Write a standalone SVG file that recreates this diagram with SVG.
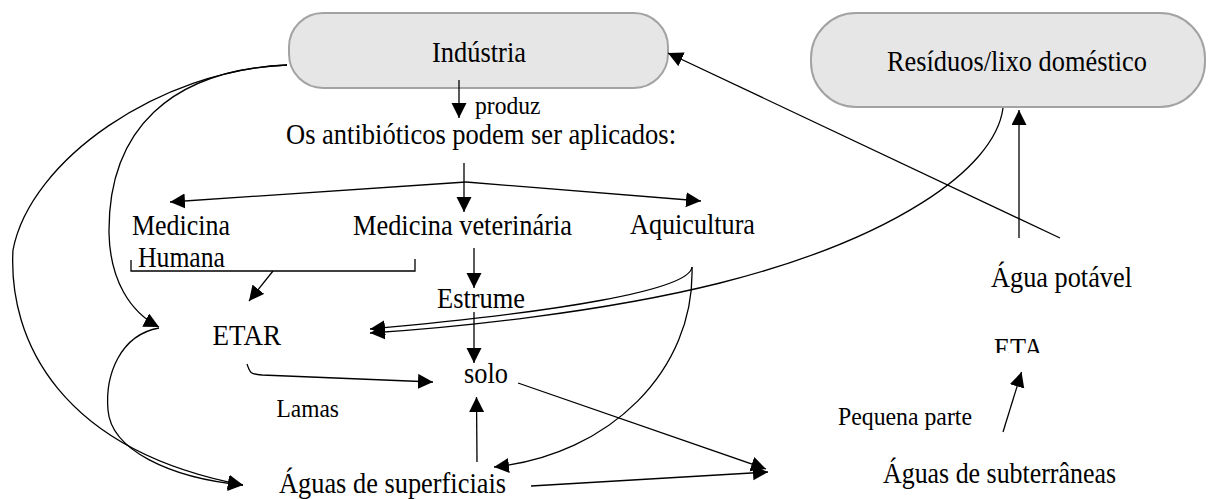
<svg xmlns="http://www.w3.org/2000/svg" width="1214" height="499" viewBox="0 0 1214 499">
<style>
.t{font-family:"Liberation Serif","Times New Roman",serif;font-size:28.5px;fill:#000}
.s{font-family:"Liberation Serif","Times New Roman",serif;font-size:25px;fill:#000}
.box{fill:#e6e6e6;stroke:#a3a3a3;stroke-width:2}
.c{fill:none;stroke:#000;stroke-width:1.3}
</style>
<defs>
<marker id="ah" markerUnits="userSpaceOnUse" markerWidth="16" markerHeight="16" refX="15" refY="7.5" orient="auto">
<path d="M0,0 L15,7.5 L0,15 z" fill="#000"/>
</marker>
<clipPath id="etaclip"><rect x="980" y="320" width="80" height="33"/></clipPath>
</defs>
<g id="industria">
<rect class="box" x="289" y="13" width="379" height="75" rx="34" ry="34"/>
<text class="t" x="432" y="62" textLength="94" lengthAdjust="spacingAndGlyphs">Indústria</text>
</g>
<g id="residuos">
<rect class="box" x="811" y="13" width="394" height="94" rx="45" ry="45"/>
<text class="t" x="887" y="71" textLength="260" lengthAdjust="spacingAndGlyphs">Resíduos/lixo doméstico</text>
</g>
<g id="antibioticos">
<text class="t" x="286" y="144" textLength="390" lengthAdjust="spacingAndGlyphs">Os antibióticos podem ser aplicados:</text>
</g>
<g id="medicina-humana">
<text class="t" x="132" y="235" textLength="98" lengthAdjust="spacingAndGlyphs">Medicina</text>
<text class="t" x="138" y="267" textLength="87" lengthAdjust="spacingAndGlyphs">Humana</text>
</g>
<g id="medicina-veterinaria">
<text class="t" x="353" y="235" textLength="219" lengthAdjust="spacingAndGlyphs">Medicina veterinária</text>
</g>
<g id="aquicultura">
<text class="t" x="630" y="234" textLength="125" lengthAdjust="spacingAndGlyphs">Aquicultura</text>
</g>
<g id="estrume">
<text class="t" x="437" y="308" textLength="88" lengthAdjust="spacingAndGlyphs">Estrume</text>
</g>
<g id="etar">
<text class="t" x="212.5" y="345" textLength="68.5" lengthAdjust="spacingAndGlyphs">ETAR</text>
</g>
<g id="solo">
<text class="t" x="464" y="383" textLength="44" lengthAdjust="spacingAndGlyphs">solo</text>
</g>
<g id="aguas-superficiais">
<text class="t" x="279" y="493" textLength="227" lengthAdjust="spacingAndGlyphs">Águas de superficiais</text>
</g>
<g id="agua-potavel">
<text class="t" x="991" y="287" textLength="141" lengthAdjust="spacingAndGlyphs">Água potável</text>
</g>
<g id="eta">
<text class="t" x="994" y="358" textLength="49" lengthAdjust="spacingAndGlyphs" clip-path="url(#etaclip)">ETA</text>
</g>
<g id="aguas-subterraneas">
<text class="t" x="883" y="483" textLength="233" lengthAdjust="spacingAndGlyphs">Águas de subterrâneas</text>
</g>
<g id="labels">
<text class="s" x="475" y="114" textLength="65.5" lengthAdjust="spacingAndGlyphs">produz</text>
<text class="s" x="276.5" y="416.5" textLength="62.5" lengthAdjust="spacingAndGlyphs">Lamas</text>
<text class="s" x="838" y="425" textLength="134" lengthAdjust="spacingAndGlyphs">Pequena parte</text>
</g>
<g id="connectors">
<path class="c" d="M459,80 L459,118" marker-end="url(#ah)"/>
<path class="c" d="M464,163 L464,212" marker-end="url(#ah)"/>
<path class="c" d="M466,182 L170,202" marker-end="url(#ah)"/>
<path class="c" d="M466,182 L701,201" marker-end="url(#ah)"/>
<path class="c" d="M131,260 L131,271 L415,271 L415,259"/>
<path class="c" d="M273,271 L249,301" marker-end="url(#ah)"/>
<path class="c" d="M474,248 L474,288" marker-end="url(#ah)"/>
<path class="c" d="M474,312 L474,363" marker-end="url(#ah)"/>
<path class="c" d="M247,364 C250,372 249,374 262,375 L433,382" marker-end="url(#ah)"/>
<path class="c" d="M477,462 L476.5,397" marker-end="url(#ah)"/>
<path class="c" d="M531,486 L768,472" marker-end="url(#ah)"/>
<path class="c" d="M518,383 L766,469" marker-end="url(#ah)"/>
<path class="c" d="M692,267 C695,370 610,455 494,467" marker-end="url(#ah)"/>
<path class="c" d="M692,267 C690,290 560,312 370,329" marker-end="url(#ah)"/>
<path class="c" d="M1003,108 C995,170 890,240 720,283 C600,313 450,328 370,333" marker-end="url(#ah)"/>
<path class="c" d="M287,65 C170,70 108,130 109,233 C110,280 130,312 159,327" marker-end="url(#ah)"/>
<path class="c" d="M287,65 C160,70 30,160 13,250 C8,340 60,450 243,485" marker-end="url(#ah)"/>
<path class="c" d="M159,328 C120,335 105,375 108,410 C111,450 170,478 243,485" marker-end="url(#ah)"/>
<path class="c" d="M1019,238 L1019,110" marker-end="url(#ah)"/>
<path class="c" d="M1060,238 L668,53" marker-end="url(#ah)"/>
<path class="c" d="M1003,432 L1021.5,372" marker-end="url(#ah)"/>
</g>
</svg>
